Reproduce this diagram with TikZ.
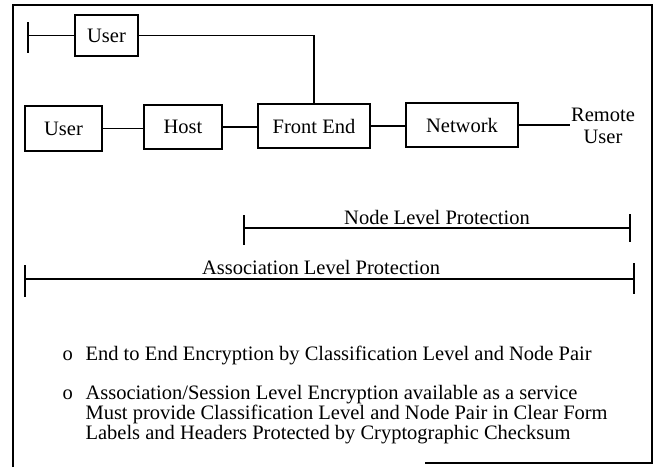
\documentclass[tikz,border=0pt]{standalone}
\usepackage{fontspec}
\setmainfont{Liberation Serif}
\begin{document}
\begin{tikzpicture}[x=1pt,y=-1pt,
  line width=1.1pt,
  every node/.style={font=\fontsize{20.5}{22}\selectfont},
  unit/.style={draw, inner sep=0pt},
  txt/.style={anchor=base west, inner sep=0pt}]
\useasboundingbox (0,0) rectangle (654,467);

% outer frame
\draw[line width=1.4pt] (13,467) -- (13,5) -- (652,5) -- (652,463) -- (425,463);

% equipment boxes
\node[unit, minimum width=63pt, minimum height=41pt] (usertop) at (106.5,35.5) {User};
\node[unit, minimum width=77pt, minimum height=45pt] (user) at (63.5,128.5) {User};
\node[unit, minimum width=78pt, minimum height=44pt] (host) at (183,127) {Host};
\node[unit, minimum width=112pt, minimum height=44pt] (fe) at (314,126) {Front End};
\node[unit, minimum width=112pt, minimum height=44pt] (net) at (462,125) {Network};
\node[align=center, inner sep=1pt] (remote) at (603,126) {Remote\\User};

% terminal stub of the upper user line
\coordinate (stubA) at (28,22);
\coordinate (stubB) at (28,53);
\coordinate (stub) at (28,35.5);
\draw (stubA) -- (stubB);
\draw (stub) -- (usertop.west);

% connectors
\draw (usertop.east) -| (fe.north);
\draw (user.east) -- (host.west |- user.east);
\draw (host.east) -- (fe.west |- host.east);
\draw (fe.east) -- (net.west |- fe.east);
\draw (net.east) -- (remote.west |- net.east);

% node level protection span
\coordinate (nl) at (244,228);
\coordinate (nr) at (630,228);
\draw (nl) -- (nr);
\draw (244,215) -- (244,245);
\draw (630,214) -- (630,242);
\node[anchor=base, inner sep=0pt] (nlp) at (437,224) {Node Level Protection};

% association level protection span
\coordinate (al) at (25,279);
\coordinate (ar) at (634,279);
\draw (al) -- (ar);
\draw (25,265) -- (25,297);
\draw (634,263) -- (634,294);
\node[anchor=base, inner sep=0pt] (alp) at (321,274) {Association Level Protection};

% notes
\node[txt] (b1) at (62,360) {o};
\node[txt] (t1) at (85,360) {End to End Encryption by Classification Level and Node Pair};
\node[txt] (b2) at (62,399) {o};
\node[txt] (t2) at (85,399) {Association/Session Level Encryption available as a service};
\node[txt] (t3) at (85,419) {Must provide Classification Level and Node Pair in Clear Form};
\node[txt] (t4) at (85,439) {Labels and Headers Protected by Cryptographic Checksum};
\end{tikzpicture}
\end{document}
